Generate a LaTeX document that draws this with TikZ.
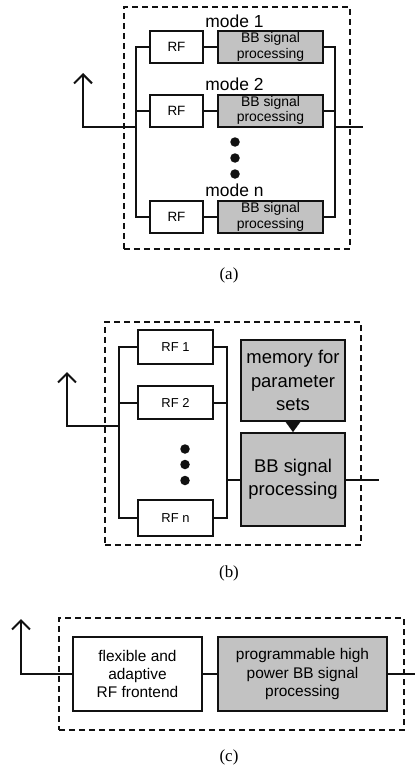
\documentclass[tikz,border=0pt]{standalone}
\usepackage{fontspec}
\setmainfont{Liberation Serif}
\setsansfont{Liberation Sans}
\usepackage{tikz}
\usetikzlibrary{arrows.meta,positioning,calc}
\definecolor{bbgrey}{HTML}{C2C2C2}
\definecolor{ink}{HTML}{111111}
\tikzset{
  rfbox/.style={draw=ink,fill=white,line width=2bp,inner sep=0pt,
                align=center,font=\sffamily},
  bbbox/.style={draw=ink,fill=bbgrey,line width=2bp,inner sep=0pt,
                align=center,font=\sffamily},
  frame/.style={draw=ink,line width=1.8bp,dash pattern=on 6bp off 4bp},
  wire/.style={draw=ink,line width=2bp},
  antenna/.style={wire,-{Straight Barb[length=9bp,width=18bp]}},
  feed/.style={-{Triangle[length=11bp,width=16bp]},ink,line width=0.1bp},
  modelabel/.style={anchor=base,font=\sffamily\fontsize{17.5}{19}\selectfont,
                    inner sep=0pt},
  caption/.style={font=\fontsize{17}{19}\selectfont,inner sep=0pt},
  dot/.style={circle,fill=ink,inner sep=0pt,minimum size=9.5bp},
}

\begin{document}
\begin{tikzpicture}[x=1bp,y=-1bp]
  \useasboundingbox (0,0) rectangle (415,771);

  % (a) one receiver chain per mode
  \node[frame,minimum width=226bp,minimum height=242bp,anchor=north west]
    (fa) at (123,6) {};
  \foreach \n/\y in {1/47,2/110.5,n/217}{
    \node[rfbox,minimum width=53bp,minimum height=32bp,
          font=\sffamily\fontsize{13.5}{15}\selectfont]
      (rfa\n) at (176.5,\y) {RF};
    \node[bbbox,minimum width=105bp,minimum height=32bp,
          font=\sffamily\fontsize{14}{15.5}\selectfont]
      (bba\n) at (270.5,\y) {BB signal\\processing};
    \draw[wire] (rfa\n) -- (bba\n);
  }
  \node[modelabel] (ma1) at (234.5,27.5) {mode 1};
  \node[modelabel] (ma2) at (234.5,90.7) {mode 2};
  \node[modelabel] (man) at (234.5,196.7) {mode n};
  \foreach \y [count=\i] in {142,158,174}
    \node[dot] (da\i) at (235,\y) {};
  \coordinate (aL) at (136,127);
  \coordinate (aR) at (335,127);
  \coordinate (aant) at (83,73);
  \coordinate (aout) at (363,127);
  \draw[wire] (rfa1.west) -- (rfa1.west -| aL) -- (rfan.west -| aL) -- (rfan.west);
  \draw[wire] (rfa2.west) -- (rfa2.west -| aL);
  \draw[wire] (bba1.east) -- (bba1.east -| aR) -- (bban.east -| aR) -- (bban.east);
  \draw[wire] (bba2.east) -- (bba2.east -| aR);
  \draw[antenna] (aL) -| (aant);
  \draw[wire] (aR) -- (aout);
  \node[caption] (capa) at (229,275) {(a)};

  % (b) several RF front ends, one parameterised baseband
  \node[frame,minimum width=256bp,minimum height=223bp,anchor=north west]
    (fb) at (104,321) {};
  \foreach \n/\y/\h in {1/347/34,2/402.5/33,n/518/36}{
    \node[rfbox,minimum width=75bp,minimum height=\h bp,
          font=\sffamily\fontsize{13}{15}\selectfont]
      (rfb\n) at (175.5,\y) {RF \n};
  }
  \foreach \y [count=\i] in {449,464.5,480.5}
    \node[dot] (db\i) at (185,\y) {};
  \node[bbbox,minimum width=104bp,minimum height=81bp,
        font=\sffamily\fontsize{18.5}{23.5}\selectfont]
    (mem) at (293,380.5) {memory for\\parameter\\sets};
  \node[bbbox,minimum width=104bp,minimum height=93bp,
        font=\sffamily\fontsize{18.5}{23.5}\selectfont]
    (bbb) at (293,479.5) {BB signal\\processing};
  \draw[feed] (mem) -- (bbb);
  \coordinate (bL) at (119,426);
  \coordinate (bR) at (226.5,480);
  \coordinate (bant) at (67,372);
  \coordinate (bout) at (379,480);
  \draw[wire] (rfb1.west) -- (rfb1.west -| bL) -- (rfbn.west -| bL) -- (rfbn.west);
  \draw[wire] (rfb2.west) -- (rfb2.west -| bL);
  \draw[wire] (rfb1.east) -- (rfb1.east -| bR) -- (rfbn.east -| bR) -- (rfbn.east);
  \draw[wire] (rfb2.east) -- (rfb2.east -| bR);
  \draw[antenna] (bL) -| (bant);
  \draw[wire] (bR) -- (bbb.west |- bR);
  \draw[wire] (bbb.east |- bout) -- (bout);
  \node[caption] (capb) at (229,573) {(b)};

  % (c) one adaptive front end
  \node[frame,minimum width=345bp,minimum height=112bp,anchor=north west]
    (fc) at (58,617) {};
  \node[rfbox,minimum width=129bp,minimum height=74bp,
        font=\sffamily\fontsize{15.5}{18.5}\selectfont]
    (rfc) at (137.5,674) {flexible and\\adaptive\\RF frontend};
  \node[bbbox,minimum width=169bp,minimum height=74bp,
        font=\sffamily\fontsize{15.5}{18.5}\selectfont]
    (bbc) at (302.5,674) {programmable high\\power BB signal\\processing};
  \coordinate (cant) at (21,619);
  \coordinate (cout) at (415,674);
  \draw[wire] (rfc) -- (bbc);
  \draw[antenna] (rfc.west) -| (cant);
  \draw[wire] (bbc.east) -- (cout);
  \node[caption] (capc) at (229,757) {(c)};
\end{tikzpicture}
\end{document}
